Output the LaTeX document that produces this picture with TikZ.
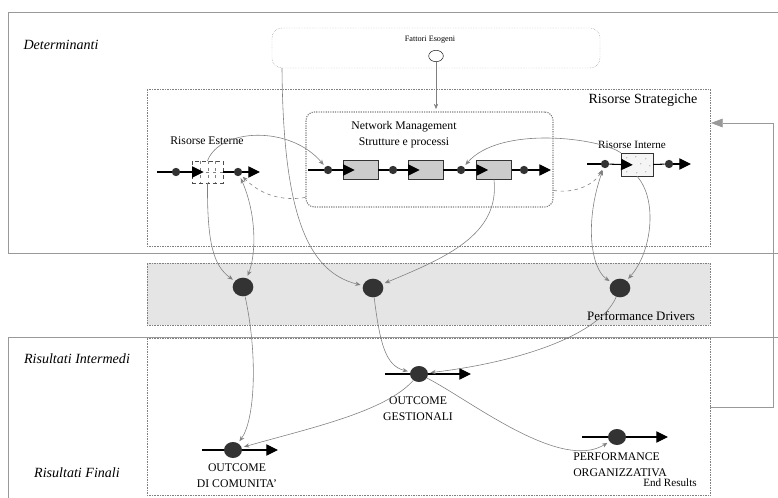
\documentclass[tikz,border=0pt]{standalone}
\usepackage{fontspec}
\setmainfont{Liberation Serif}
\usetikzlibrary{arrows.meta,shapes.geometric}
\tikzset{zone/.style={draw=gray, densely dotted, inner sep=0pt}}
\tikzset{frame/.style={draw=gray!80, line width=0.6pt}}
\tikzset{chain/.style={draw=black, line width=0.9pt}}
\tikzset{tip/.style={-{Triangle[length=3.5mm,width=3.4mm]}}}
\tikzset{intip/.style={tip, shorten >=-3.6mm}}
\tikzset{link/.style={draw=gray, line width=0.5pt, -{Stealth[length=1.6mm,width=1.3mm]}, shorten >=2pt}}
\tikzset{both/.style={{Stealth[length=1.6mm,width=1.3mm]}-{Stealth[length=1.6mm,width=1.3mm]}, shorten <=2pt}}
\tikzset{dlink/.style={link, dashed}}

\begin{document}
\begin{tikzpicture}[x=0.3mm, y=-0.3mm,
    smalldot/.style={circle, fill=black!80, inner sep=0pt, minimum size=2.5mm},
    bigdot/.style={ellipse, fill=black!80, inner sep=0pt, minimum width=6.2mm, minimum height=5.6mm},
    outdot/.style={ellipse, fill=black!80, inner sep=0pt, minimum width=5.4mm, minimum height=4.8mm},
    procbox/.style={rectangle, draw=black!80, fill=gray!40, minimum width=10.5mm, minimum height=5.7mm, inner sep=0pt},
    lab/.style={font=\fontsize{10}{13.5}\selectfont, align=center},
    side/.style={font=\fontsize{12}{14}\selectfont\itshape}]
  \useasboundingbox (0,0) rectangle (778,498);

  % zone e cornice
  \node[zone, rounded corners=3mm, minimum width=98.4mm, minimum height=12mm] (exo) at (436,48) {};
  \node[zone, minimum width=168.9mm, minimum height=47.1mm] (strat) at (428.5,167.5) {};
  \node[zone, fill=gray!20, minimum width=168.9mm, minimum height=18.6mm] (drv) at (428.5,294) {};
  \node[zone, minimum width=168.9mm, minimum height=47.1mm] (res) at (428.5,416.5) {};
  \node[zone, line width=1pt, rounded corners=2.5mm, minimum width=74.1mm, minimum height=28.5mm] (nm) at (429.5,159.5) {};

  \draw[frame] (778,12) -- (8,12) -- (8,253) -- (778,253);
  \draw[frame] (8,498) -- (8,337) -- (778,337);

  \coordinate (fbStart) at (710,407);
  \coordinate (fbEnd) at (711,123);
  \draw[frame, -{Triangle[length=3.5mm,width=2.6mm]}] (fbStart) -- (773,407) -- (773,123) -- (fbEnd);

  % testi
  \node[side] (det) at (61,45) {Determinanti};
  \node[side] (rint) at (77,359) {Risultati Intermedi};
  \node[side] (rfin) at (77,473) {Risultati Finali};
  \node[font=\fontsize{7}{8}\selectfont] (exoT) at (430,40) {Fattori Esogeni};
  \node[font=\fontsize{12}{14}\selectfont] (stratT) at (643,100) {Risorse Strategiche};
  \node[lab] (nmT) at (404,135) {Network Management\\Strutture e processi};
  \node[lab] (reT) at (207,141) {Risorse Esterne};
  \node[font=\fontsize{9.5}{11}\selectfont] (riT) at (632,145) {Risorse Interne};
  \node[font=\fontsize{11}{13}\selectfont] (drvT) at (641,316) {Performance Drivers};
  \node[lab] (ogT) at (418,409) {OUTCOME\\GESTIONALI};
  \node[lab] (ocT) at (237,476) {OUTCOME\\DI COMUNITA'};
  \node[lab, align=left] (poT) at (620,465) {PERFORMANCE\\ORGANIZZATIVA};
  \node[font=\fontsize{9.5}{11}\selectfont] (endT) at (670,483) {End Results};

  \node[ellipse, draw=black!80, line width=0.5pt, minimum width=4.4mm, minimum height=3.4mm, inner sep=0pt] (exoC) at (436,56) {};

  % risorse esterne
  \coordinate (reIn) at (157,172);
  \node[smalldot] (reD1) at (176,172) {};
  \node[rectangle, draw=black!70, dashed, minimum width=9.3mm, minimum height=6.6mm, inner sep=0pt] (reBox) at (207.5,172) {};
  \foreach \dx in {8,16,23}
    \draw[gray, dashed, line width=0.3pt] ([shift={(\dx,0)}]reBox.north west) -- ([shift={(\dx,0)}]reBox.south west);
  \draw[gray, dashed, line width=0.3pt] (reBox.west) -- (reBox.east);
  \node[smalldot] (reD2) at (238,172) {};
  \coordinate (reOut) at (260,172);
  \draw[chain] (reIn) -- (reD1);
  \draw[chain, intip] (reD1) -- (reBox.west);
  \draw[chain] (reBox.east) -- (reD2);
  \draw[chain, tip] (reD2) -- (reOut);

  % network management
  \coordinate (nmIn) at (308,170);
  \node[smalldot] (nmD1) at (328,170) {};
  \node[procbox] (nmB1) at (360.5,170) {};
  \node[smalldot] (nmD2) at (393,170) {};
  \node[procbox] (nmB2) at (425.5,170) {};
  \node[smalldot] (nmD3) at (461,170) {};
  \node[procbox] (nmB3) at (494,170) {};
  \node[smalldot] (nmD4) at (524,170) {};
  \coordinate (nmOut) at (551,170);
  \draw[chain] (nmIn) -- (nmD1);
  \draw[chain, intip] (nmD1) -- (nmB1.west);
  \draw[chain] (nmB1.east) -- (nmD2);
  \draw[chain, intip] (nmD2) -- (nmB2.west);
  \draw[chain] (nmB2.east) -- (nmD3);
  \draw[chain, intip] (nmD3) -- (nmB3.west);
  \draw[chain] (nmB3.east) -- (nmD4);
  \draw[chain, tip] (nmD4) -- (nmOut);

  % risorse interne
  \coordinate (riIn) at (587,164);
  \node[smalldot] (riD1) at (605,164) {};
  \node[rectangle, draw=black!80, fill=gray!8, minimum width=9.6mm, minimum height=6.9mm, inner sep=0pt] (riBox) at (637,164.5) {};
  \foreach \dx/\dy in {6/5,15/4,25/6,10/12,20/11,29/13,6/19,16/20,25/19}
    \fill[gray!90] ([shift={(\dx,\dy)}]riBox.north west) circle (0.45pt);
  \node[smalldot] (riD2) at (669,164) {};
  \coordinate (riOut) at (691,164);
  \draw[chain] (riIn) -- (riD1);
  \draw[chain, intip] (riD1) -- (riBox.west);
  \draw[chain] (riBox.east) -- (riD2);
  \draw[chain, tip] (riD2) -- (riOut);

  % driver e risultati
  \node[bigdot] (d1) at (243,287) {};
  \node[bigdot] (d2) at (373,288) {};
  \node[bigdot] (d3) at (620,288) {};

  \coordinate (ogIn) at (385,374);
  \coordinate (ogOut) at (471,374);
  \coordinate (ocIn) at (202,450);
  \coordinate (ocOut) at (278,450);
  \coordinate (poIn) at (582,437);
  \coordinate (poOut) at (668,437);
  \node[outdot] (og) at (419,374) {};
  \node[outdot] (oc) at (233,450) {};
  \node[outdot] (po) at (617,437) {};
  \draw[chain] (ogIn) -- (og);
  \draw[chain, tip] (og) -- (ogOut);
  \draw[chain] (ocIn) -- (oc);
  \draw[chain, tip] (oc) -- (ocOut);
  \draw[chain] (poIn) -- (po);
  \draw[chain, tip] (po) -- (poOut);

  % collegamenti
  \draw[link] (exoC) -- (exoC |- nm.north);
  \coordinate (exoFoot) at (282,68);
  \draw[link] (exoFoot) .. controls (283,215) and (308,272) .. (d2);
  \draw[link] (reBox.south) .. controls (207,245) and (214,266) .. (d1);
  \draw[link, both] (reD2) .. controls (257,215) and (256,255) .. (d1);
  \draw[dlink] (nm.197) .. controls (278,202) and (258,192) .. (reD2);
  \draw[link] (reBox.north) .. controls (220,128) and (290,125) .. (nmD1);
  \draw[link] (riBox.north west) .. controls (600,138) and (500,125) .. (nmD3);
  \draw[dlink] (nm.346) .. controls (575,194) and (595,184) .. (riD1);
  \draw[link, both] (riD1) .. controls (585,220) and (590,268) .. (d3);
  \draw[link] (riBox.south) .. controls (658,200) and (652,252) .. (d3);
  \draw[link] (nmB3.south) .. controls (500,235) and (445,258) .. (d2);
  \draw[link] (d3) .. controls (600,335) and (520,362) .. (og);
  \draw[link] (d2) .. controls (380,345) and (386,366) .. (og);
  \draw[link] (d1) .. controls (258,355) and (255,420) .. (oc);
  \draw[link] (og) .. controls (385,412) and (310,428) .. (oc);
  \draw[link] (og) .. controls (470,400) and (560,472) .. (po);
\end{tikzpicture}
\end{document}
